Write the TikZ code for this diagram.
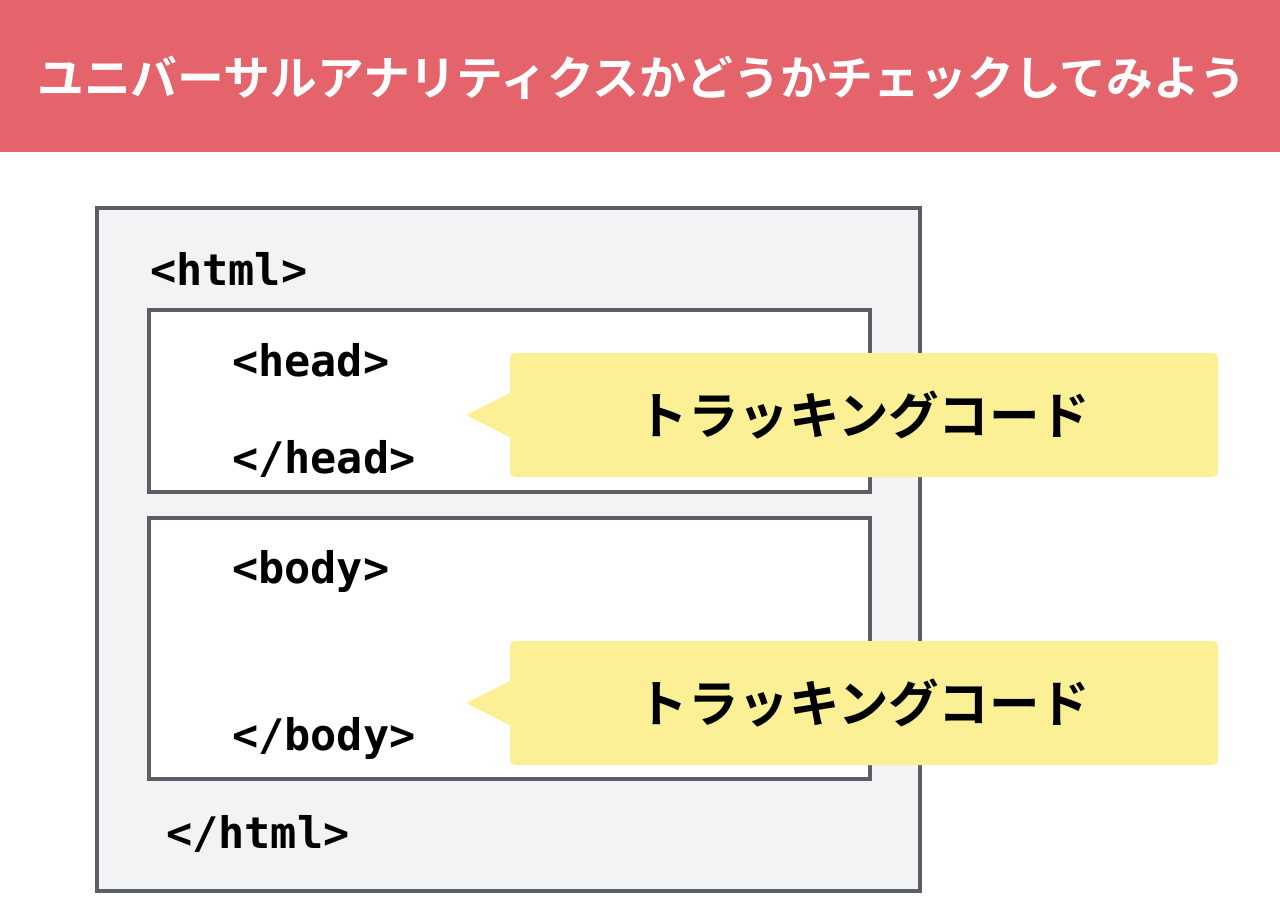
\documentclass[tikz,border=0pt]{standalone}
\usepackage{fontspec}
\newfontfamily\jpfont{Noto Sans CJK JP}[BoldFont={* Bold}]
\setmonofont{DejaVu Sans Mono}
\definecolor{headred}{RGB}{229,99,107}
\definecolor{boxgray}{RGB}{242,243,245}
\definecolor{linegray}{RGB}{91,94,99}
\definecolor{noteyellow}{RGB}{252,240,150}
\tikzset{
  tag/.style={anchor=base west, inner sep=0pt, font=\ttfamily\bfseries\fontsize{43.5}{50}\selectfont},
  callbox/.style={fill=noteyellow, rounded corners=5pt, minimum width=708pt, minimum height=124pt,
    inner sep=0pt, font=\jpfont\bfseries\fontsize{50.5}{56}\selectfont}
}
\begin{document}
\begin{tikzpicture}[x=1pt, y=-1pt]
            \useasboundingbox (0, 0) rectangle (1280, 920);
            \fill[headred] (0, 0) rectangle (1280, 152);
            \node[text=white, font=\jpfont\bfseries\fontsize{46.8}{52}\selectfont] (title) at (642, 78) {ユニバーサルアナリティクスかどうかチェックしてみよう};
            % html frame
            \draw[linegray, fill=boxgray, line width=3.2pt] (97, 208) rectangle (920, 891);
            \draw[linegray, fill=white, line width=3.2pt] (149, 310) rectangle (870, 492);
            \draw[linegray, fill=white, line width=3.2pt] (149, 518) rectangle (870, 779);
            \node[tag] (htmlopen) at (150, 285) {<html>};
            \node[tag] (headopen) at (232, 376) {<head>};
            \node[tag] (headclose) at (232, 473) {</head>};
            \node[tag] (bodyopen) at (232, 583) {<body>};
            \node[tag] (bodyclose) at (232, 750) {</body>};
            \node[tag] (htmlclose) at (166, 848) {</html>};
            % callouts
            \node[callbox] (trackhead) at (864, 415) {トラッキングコード};
            \coordinate (headtip) at (466, 415);
            \fill[noteyellow] ([yshift=22pt]trackhead.west) -- (headtip) -- ([yshift=-22pt]trackhead.west) -- cycle;
            \node[callbox] (trackbody) at (864, 703) {トラッキングコード};
            \coordinate (bodytip) at (466, 703);
            \fill[noteyellow] ([yshift=22pt]trackbody.west) -- (bodytip) -- ([yshift=-22pt]trackbody.west) -- cycle;
        \end{tikzpicture}
\end{document}
